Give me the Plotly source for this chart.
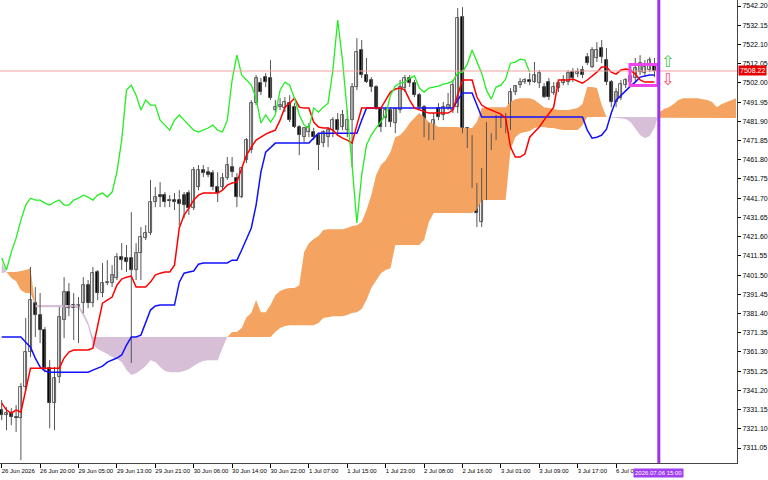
import plotly.graph_objects as go

# ---------------- data (prices) ----------------
x_labels = ["26 Jun 2026", "26 Jun 20:00", "29 Jun 05:00", "29 Jun 13:00", "29 Jun 21:00",
            "30 Jun 06:00", "30 Jun 14:00", "30 Jun 22:00", "1 Jul 07:00", "1 Jul 15:00",
            "1 Jul 23:00", "2 Jul 08:00", "2 Jul 16:00", "3 Jul 01:00", "3 Jul 09:00",
            "3 Jul 17:00", "6 Jul 06"]
x_label_bars = [0, 8, 16, 24, 32, 40, 48, 56, 64, 72, 80, 88, 96, 104, 112, 120, 128]

y_ticks = [7542.20, 7532.15, 7522.10, 7512.05, 7502.00, 7491.95, 7481.90, 7471.85,
           7461.80, 7451.75, 7441.70, 7431.65, 7421.60, 7411.55, 7401.50, 7391.45,
           7381.40, 7371.35, 7361.30, 7351.25, 7341.20, 7331.15, 7321.10, 7311.05]

open_ = [7330.9, 7328.3, 7329.3, 7327.2, 7326.7, 7342.9, 7361.2, 7386.8, 7380.6, 7372.7,
         7352.8, 7334.5, 7348.1, 7377.9, 7392.6, 7385.8, 7384.2, 7386.8, 7396.2, 7386.8,
         7403.1, 7392.1, 7397.3, 7397.3, 7399.9, 7410.9, 7410.4, 7410.4, 7404.1, 7413.0,
         7420.8, 7423.4, 7439.7, 7443.3, 7443.3, 7440.7, 7440.7, 7440.7, 7443.3, 7444.4,
         7436.5, 7447.5, 7456.4, 7455.3, 7454.8, 7447.5, 7447.5, 7452.2, 7458.0, 7452.2,
         7442.3, 7461.6, 7466.9, 7491.4, 7501.9, 7505.0, 7504.5, 7487.8, 7489.3, 7488.8,
         7491.4, 7489.3, 7478.9, 7473.6, 7476.3, 7476.3, 7474.7, 7470.5, 7473.6, 7477.3,
         7482.5, 7478.9, 7477.3, 7482.5, 7499.8, 7519.2, 7506.1, 7503.5, 7499.8, 7488.8,
         7483.6, 7487.8, 7481.0, 7487.8, 7499.3, 7504.5, 7501.9, 7495.6, 7489.3, 7477.3,
         7478.4, 7488.8, 7485.2, 7488.8, 7487.8, 7489.3, 7536.4, 7478.4, 7473.6, 7448.5,
         7429.2, 7456.4, 7473.6, 7473.6, 7482.5, 7483.6, 7478.4, 7497.2, 7500.8, 7502.4,
         7503.5, 7502.4, 7501.9, 7499.8, 7502.4, 7496.7, 7499.3, 7501.9, 7502.4, 7507.6,
         7506.6, 7508.7, 7515.5, 7510.3, 7515.0, 7520.2, 7513.9, 7502.4, 7492.0, 7494.0,
         7500.8, 7502.4, 7504.5, 7507.6, 7507.1, 7508.7, 7511.3]

high = [7336.1, 7332.4, 7331.9, 7333.5, 7345.0, 7379.0, 7405.7, 7395.2, 7392.1, 7374.3,
        7357.0, 7353.4, 7384.7, 7400.4, 7397.3, 7392.1, 7390.0, 7400.4, 7398.9, 7405.7,
        7404.1, 7407.8, 7409.3, 7406.7, 7413.0, 7418.2, 7417.2, 7434.4, 7418.2, 7426.6,
        7427.6, 7451.2, 7447.5, 7450.1, 7444.9, 7443.3, 7444.4, 7445.9, 7444.9, 7445.9,
        7458.0, 7459.0, 7459.0, 7458.0, 7456.4, 7455.3, 7454.8, 7463.2, 7463.2, 7454.8,
        7458.0, 7473.1, 7493.0, 7506.1, 7504.5, 7507.1, 7513.9, 7493.0, 7494.0, 7494.6,
        7495.6, 7491.4, 7479.9, 7478.9, 7481.0, 7478.4, 7475.7, 7477.3, 7478.9, 7484.1,
        7486.2, 7487.8, 7487.8, 7501.9, 7525.4, 7524.4, 7515.0, 7505.0, 7500.8, 7489.3,
        7489.3, 7489.3, 7489.3, 7503.5, 7506.1, 7506.1, 7503.5, 7496.7, 7490.4, 7481.0,
        7486.2, 7491.4, 7492.0, 7496.7, 7503.5, 7541.1, 7541.6, 7478.9, 7474.7, 7449.6,
        7457.4, 7481.5, 7475.7, 7485.2, 7485.2, 7486.2, 7499.3, 7500.8, 7504.5, 7504.5,
        7507.1, 7512.9, 7508.7, 7501.9, 7504.5, 7502.4, 7503.5, 7506.1, 7508.7, 7509.7,
        7509.7, 7510.8, 7517.6, 7520.7, 7523.3, 7524.4, 7520.2, 7503.5, 7499.3, 7503.5,
        7504.5, 7507.6, 7515.0, 7516.5, 7513.9, 7515.5, 7515.0]

low = [7325.6, 7320.4, 7323.0, 7319.4, 7304.7, 7341.3, 7358.6, 7369.1, 7365.9, 7350.7,
       7321.4, 7320.4, 7345.0, 7368.5, 7380.0, 7367.5, 7365.9, 7381.6, 7384.2, 7384.7,
       7388.4, 7390.0, 7396.2, 7395.2, 7398.9, 7404.1, 7403.1, 7355.5, 7398.9, 7398.9,
       7419.8, 7422.4, 7437.0, 7437.0, 7437.0, 7437.0, 7435.5, 7427.6, 7431.3, 7432.9,
       7435.5, 7445.9, 7452.7, 7452.7, 7445.9, 7439.7, 7445.9, 7451.2, 7452.7, 7437.0,
       7441.7, 7460.1, 7465.3, 7490.4, 7495.6, 7499.8, 7493.0, 7486.7, 7487.8, 7486.7,
       7481.5, 7478.4, 7464.2, 7471.0, 7473.6, 7472.1, 7456.4, 7468.4, 7468.4, 7473.6,
       7475.7, 7477.3, 7473.6, 7458.0, 7498.2, 7504.5, 7501.9, 7497.2, 7487.8, 7476.3,
       7478.9, 7478.9, 7475.7, 7486.2, 7497.2, 7499.8, 7494.6, 7487.8, 7473.6, 7472.1,
       7472.1, 7482.5, 7482.5, 7487.8, 7486.2, 7486.2, 7475.7, 7467.9, 7447.0, 7426.6,
       7426.6, 7440.7, 7466.9, 7472.1, 7478.4, 7475.7, 7477.3, 7495.6, 7499.3, 7501.4,
       7500.8, 7501.9, 7499.3, 7494.0, 7493.0, 7495.6, 7497.2, 7500.8, 7500.8, 7502.4,
       7505.0, 7504.5, 7511.3, 7509.7, 7512.9, 7512.3, 7500.8, 7489.3, 7489.3, 7493.0,
       7499.3, 7500.8, 7502.4, 7506.1, 7506.1, 7507.6, 7505.0]

close = [7328.3, 7329.3, 7327.2, 7326.7, 7342.9, 7361.2, 7388.4, 7380.6, 7372.7, 7352.8,
         7334.5, 7347.6, 7379.5, 7392.6, 7384.2, 7384.2, 7385.8, 7396.2, 7386.8, 7402.5,
         7392.1, 7397.3, 7397.8, 7401.5, 7410.9, 7409.3, 7408.3, 7404.1, 7413.0, 7421.4,
         7423.4, 7439.7, 7442.3, 7442.3, 7439.7, 7440.2, 7439.7, 7438.6, 7438.1, 7436.5,
         7456.4, 7456.4, 7454.8, 7453.8, 7447.5, 7444.4, 7452.2, 7459.0, 7455.3, 7442.3,
         7457.4, 7472.1, 7491.4, 7504.5, 7497.2, 7502.4, 7494.0, 7489.3, 7490.4, 7492.0,
         7482.5, 7478.9, 7474.7, 7478.4, 7478.9, 7473.6, 7469.5, 7476.3, 7477.3, 7482.5,
         7477.3, 7485.2, 7482.5, 7499.8, 7518.1, 7506.1, 7502.4, 7499.8, 7488.8, 7478.9,
         7487.8, 7481.5, 7488.3, 7499.8, 7504.5, 7501.9, 7495.6, 7489.3, 7477.3, 7478.4,
         7482.5, 7484.1, 7489.3, 7490.4, 7500.8, 7535.9, 7478.4, 7477.3, 7448.5, 7433.9,
         7456.4, 7472.1, 7470.5, 7483.6, 7484.1, 7477.3, 7497.2, 7500.3, 7502.4, 7503.5,
         7502.4, 7506.1, 7507.1, 7494.6, 7494.6, 7499.8, 7501.9, 7503.5, 7507.1, 7504.5,
         7507.6, 7506.1, 7512.3, 7519.2, 7519.2, 7515.5, 7502.4, 7492.0, 7497.2, 7501.4,
         7503.5, 7505.6, 7509.7, 7512.3, 7510.3, 7513.9, 7508.22]

tenkan = [7334.5, 7330.9, 7329.3, 7330.9, 7329.8, 7341.3, 7352.8, 7352.8, 7352.8, 7352.8,
          7352.8, 7352.8, 7352.8, 7358.1, 7361.2, 7362.3, 7362.3, 7362.3, 7362.3, 7363.3,
          7374.3, 7386.8, 7388.4, 7390.0, 7396.2, 7399.4, 7400.4, 7401.0, 7395.2, 7395.2,
          7395.2, 7397.8, 7401.5, 7402.5, 7403.1, 7403.1, 7406.7, 7426.1, 7432.9, 7436.5,
          7440.7, 7443.3, 7444.4, 7444.4, 7444.4, 7444.4, 7445.9, 7448.5, 7449.6, 7450.1,
          7457.4, 7464.2, 7468.4, 7472.1, 7473.6, 7475.2, 7476.3, 7477.3, 7482.5, 7489.3,
          7491.4, 7494.0, 7489.3, 7488.8, 7488.8, 7481.5, 7478.9, 7478.4, 7478.4, 7477.3,
          7474.7, 7473.1, 7472.1, 7470.5, 7479.9, 7488.8, 7488.8, 7488.8, 7488.8, 7488.8,
          7493.0, 7497.2, 7498.8, 7499.3, 7498.2, 7493.0, 7488.8, 7487.8, 7487.2, 7486.2,
          7486.2, 7486.2, 7486.2, 7486.2, 7487.8, 7495.6, 7503.5, 7503.5, 7503.5, 7494.6,
          7490.4, 7488.8, 7487.8, 7486.7, 7485.7, 7483.6, 7468.4, 7463.2, 7463.2, 7464.8,
          7473.6, 7476.3, 7478.9, 7482.5, 7485.7, 7489.3, 7503.5, 7503.5, 7503.5, 7504.0,
          7502.9, 7501.9, 7503.5, 7505.6, 7507.6, 7510.3, 7510.3, 7507.6, 7506.6, 7508.7,
          7509.2, 7508.7, 7506.6, 7503.5, 7502.4, 7502.4, 7502.4]

kijun = [7369.1, 7369.1, 7369.1, 7369.1, 7369.1, 7366.4, 7363.8, 7358.1, 7353.4, 7351.3,
         7350.7, 7350.7, 7350.7, 7350.7, 7350.7, 7350.7, 7350.7, 7350.7, 7350.7, 7351.8,
         7352.8, 7353.9, 7356.0, 7357.0, 7358.1, 7359.7, 7364.9, 7369.1, 7369.1, 7370.1,
         7376.9, 7383.2, 7385.3, 7385.8, 7385.8, 7385.8, 7385.8, 7397.8, 7402.5, 7403.1,
         7403.6, 7407.2, 7407.8, 7407.8, 7407.8, 7407.8, 7407.8, 7407.8, 7409.3, 7409.3,
         7414.6, 7420.8, 7426.1, 7438.1, 7455.3, 7465.8, 7468.4, 7470.5, 7470.5, 7470.5,
         7470.5, 7470.5, 7470.5, 7470.5, 7470.5, 7473.1, 7475.7, 7475.7, 7475.7, 7475.7,
         7475.7, 7475.7, 7475.7, 7475.7, 7475.7, 7482.5, 7488.8, 7488.8, 7488.8, 7488.8,
         7488.8, 7488.8, 7488.8, 7488.8, 7488.8, 7488.8, 7488.8, 7488.8, 7488.8, 7488.8,
         7488.8, 7488.8, 7488.8, 7488.8, 7488.8, 7493.0, 7496.7, 7496.7, 7496.7, 7490.4,
         7484.1, 7484.1, 7484.1, 7484.1, 7484.1, 7484.1, 7484.1, 7484.1, 7484.1, 7484.1,
         7484.1, 7484.1, 7484.1, 7484.1, 7484.1, 7484.1, 7484.1, 7484.1, 7484.1, 7484.1,
         7484.1, 7484.1, 7477.3, 7473.1, 7473.6, 7474.7, 7477.8, 7486.2, 7493.0, 7495.6,
         7498.2, 7500.3, 7502.4, 7505.0, 7505.6, 7506.1, 7506.1]

chikou = [7410.4, 7404.1, 7413.5, 7420.8, 7430.2, 7438.1, 7441.7, 7440.7, 7440.7, 7439.1,
          7438.1, 7439.7, 7440.7, 7438.1, 7438.1, 7440.7, 7441.7, 7443.3, 7442.3, 7440.7,
          7443.3, 7444.4, 7442.3, 7444.9, 7455.3, 7472.1, 7498.2, 7500.8, 7495.6, 7487.8,
          7493.0, 7490.4, 7490.4, 7482.5, 7479.9, 7477.3, 7482.5, 7485.2, 7482.5, 7479.9,
          7477.3, 7476.3, 7477.3, 7478.4, 7479.9, 7477.3, 7476.3, 7482.5, 7503.5, 7516.5,
          7506.1, 7503.5, 7500.8, 7494.0, 7481.0, 7485.2, 7481.5, 7485.2, 7498.2, 7502.4,
          7500.8, 7494.0, 7485.2, 7479.9, 7478.4, 7488.8, 7486.7, 7489.3, 7491.4, 7508.7,
          7534.8, 7513.9, 7487.8, 7459.0, 7428.7, 7453.8, 7469.5, 7474.7, 7478.4, 7481.5,
          7485.2, 7495.6, 7500.3, 7501.9, 7502.4, 7504.5, 7505.6, 7499.3, 7497.2, 7499.3,
          7499.8, 7500.3, 7501.4, 7501.9, 7502.9, 7507.1, 7507.6, 7511.8, 7519.2, 7512.9,
          7507.1, 7498.2, 7493.5, 7499.8, 7500.8, 7504.0, 7512.3, 7512.9, 7514.4, 7513.9,
          7507.6]

span_a = [7402.5, 7403.1, 7403.1, 7403.1, 7403.6, 7404.1, 7405.1, 7384.7, 7384.7, 7384.7,
          7384.7, 7384.7, 7384.7, 7384.7, 7384.7, 7384.7, 7384.2, 7380.0, 7374.8, 7364.9,
          7362.8, 7361.7, 7360.2, 7358.6, 7357.6, 7356.0, 7351.8, 7349.2, 7350.2, 7351.8,
          7353.9, 7357.0, 7356.0, 7353.4, 7351.3, 7350.7, 7350.7, 7350.7, 7351.3, 7352.3,
          7353.9, 7355.5, 7356.5, 7357.0, 7357.0, 7357.0, 7363.3, 7369.1, 7371.7, 7371.7,
          7373.8, 7379.5, 7381.6, 7388.4, 7382.1, 7382.1, 7385.8, 7391.0, 7393.1, 7394.2,
          7394.7, 7394.7, 7396.2, 7413.5, 7418.2, 7420.3, 7421.9, 7425.0, 7425.5, 7425.5,
          7425.5, 7425.5, 7426.1, 7427.1, 7427.6, 7429.2, 7435.5, 7443.3, 7453.8, 7459.0,
          7461.6, 7465.8, 7473.6, 7474.7, 7477.3, 7481.0, 7483.6, 7486.2, 7484.1, 7481.5,
          7480.5, 7478.9, 7478.9, 7478.9, 7478.9, 7478.9, 7478.4, 7478.4, 7478.4, 7481.5,
          7488.8, 7489.3, 7489.3, 7489.3, 7489.3, 7489.3, 7492.0, 7493.5, 7494.0, 7494.0,
          7494.0, 7493.0, 7490.9, 7489.3, 7488.8, 7488.3, 7487.8, 7487.8, 7487.8, 7488.3,
          7488.8, 7490.9, 7499.8, 7499.8, 7499.3, 7490.4, 7484.1, 7483.9, 7483.6, 7483.6,
          7483.1, 7481.5, 7478.4, 7474.7, 7473.1, 7474.2, 7478.4, 7486.7, 7488.3, 7489.3,
          7490.9, 7493.0, 7494.0, 7494.0, 7494.0, 7494.0, 7493.5, 7493.0, 7492.0, 7489.3,
          7490.9, 7492.0, 7493.0, 7494.0]

span_b = [7408.3, 7403.1, 7399.9, 7398.3, 7393.6, 7392.1, 7392.1, 7385.8, 7385.8, 7385.8,
          7385.8, 7385.8, 7385.8, 7385.8, 7385.8, 7385.8, 7385.8, 7382.1, 7376.9, 7369.1,
          7369.1, 7369.1, 7369.1, 7369.1, 7369.1, 7369.1, 7369.1, 7369.1, 7369.1, 7369.1,
          7369.1, 7369.1, 7369.1, 7369.1, 7369.1, 7369.1, 7369.1, 7369.1, 7369.1, 7369.1,
          7369.1, 7369.1, 7369.1, 7369.1, 7369.1, 7369.1, 7369.1, 7369.1, 7369.1, 7369.1,
          7369.1, 7369.1, 7369.1, 7369.1, 7369.1, 7369.1, 7369.1, 7371.7, 7373.8, 7374.8,
          7375.3, 7375.3, 7375.3, 7375.3, 7375.3, 7375.3, 7376.4, 7379.0, 7379.5, 7380.0,
          7380.0, 7380.0, 7380.6, 7381.6, 7382.1, 7383.7, 7388.4, 7394.7, 7398.9, 7402.5,
          7404.1, 7405.1, 7417.2, 7417.2, 7417.2, 7417.2, 7417.2, 7417.2, 7419.8, 7429.2,
          7433.9, 7433.9, 7433.9, 7433.9, 7433.9, 7433.9, 7433.9, 7433.9, 7433.9, 7435.5,
          7440.7, 7440.7, 7440.7, 7440.7, 7440.7, 7440.7, 7466.9, 7473.6, 7475.7, 7476.3,
          7476.8, 7478.4, 7478.9, 7478.9, 7478.4, 7478.4, 7477.8, 7477.3, 7477.3, 7477.3,
          7477.3, 7479.9, 7484.1, 7484.1, 7484.1, 7484.1, 7484.1, 7484.1, 7484.1, 7484.1,
          7484.1, 7484.1, 7484.1, 7484.1, 7484.1, 7484.1, 7484.1, 7483.6, 7483.6, 7483.6,
          7483.6, 7483.6, 7483.6, 7483.6, 7483.6, 7483.6, 7483.6, 7483.6, 7483.6, 7483.6,
          7483.6, 7483.6, 7483.6, 7483.6]

current_price = 7508.22
marker_bar = 136.9
marker_label = "2026.07.06 15:00"
box_bars = (130.9, 136.7)
box_prices = (7500.6, 7511.6)
up_arrow_price = 7513.4
down_arrow_price = 7504.0
arrow_bar = 138.8

# ---------------- styles ----------------
UP_CLOUD = "#f4a460"
DN_CLOUD = "#d8bfd8"
FONT = "Liberation Sans"

bars = list(range(len(close)))
cloud_x = list(range(len(span_a)))
chikou_x = list(range(len(chikou)))

fig = go.Figure()


def cloud_runs(xs, a, b):
    runs = []
    cur = None
    for i in range(len(xs)):
        d = a[i] - b[i]
        s = (d > 0) - (d < 0)
        pt = (xs[i], a[i], b[i])
        if cur is None:
            cur = {"s": s, "pts": [pt]}
            continue
        pdv = a[i - 1] - b[i - 1]
        if pdv * d < 0:
            t = pdv / (pdv - d)
            xc = xs[i - 1] + t * (xs[i] - xs[i - 1])
            yc = a[i - 1] + t * (a[i] - a[i - 1])
            cur["pts"].append((xc, yc, yc))
            runs.append(cur)
            cur = {"s": s, "pts": [(xc, yc, yc), pt]}
        else:
            if cur["s"] == 0:
                cur["s"] = s
            if s != 0 and s != cur["s"]:
                prev = cur["pts"][-1]
                runs.append(cur)
                cur = {"s": s, "pts": [prev, pt]}
            else:
                cur["pts"].append(pt)
    runs.append(cur)
    return runs


runs = cloud_runs(cloud_x, span_a, span_b)
for sign, color in ((1, UP_CLOUD), (-1, DN_CLOUD)):
    px, py = [], []
    for r in runs:
        if r["s"] != sign:
            continue
        xs = [p[0] for p in r["pts"]]
        ya = [p[1] for p in r["pts"]]
        yb = [p[2] for p in r["pts"]]
        px += xs + xs[::-1] + [None]
        py += ya + yb[::-1] + [None]
    fig.add_trace(go.Scatter(x=px, y=py, fill="toself", fillcolor=color, mode="lines",
                             line=dict(width=0, color=color), hoverinfo="skip"))

# candle wicks
wx, wy = [], []
for i in bars:
    wx += [i, i, None]
    wy += [low[i], high[i], None]
fig.add_trace(go.Scatter(x=wx, y=wy, mode="lines", line=dict(color="#555555", width=1),
                         hoverinfo="skip"))

# candle bodies
body_base = [min(o, c) for o, c in zip(open_, close)]
body_h = [abs(c - o) for o, c in zip(open_, close)]
body_col = ["#ffffff" if c >= o else "#000000" for o, c in zip(open_, close)]
fig.add_trace(go.Bar(x=bars, y=body_h, base=body_base, width=0.62,
                     marker=dict(color=body_col, line=dict(color="#333333", width=0.8)),
                     hoverinfo="skip"))

# ichimoku lines
fig.add_trace(go.Scatter(x=bars, y=kijun, mode="lines", line=dict(color="#1010ff", width=1.5),
                         hoverinfo="skip"))
fig.add_trace(go.Scatter(x=bars, y=tenkan, mode="lines", line=dict(color="#ff0000", width=1.5),
                         hoverinfo="skip"))
fig.add_trace(go.Scatter(x=chikou_x, y=chikou, mode="lines", line=dict(color="#22ee22", width=1.3),
                         hoverinfo="skip"))

shapes = [
    dict(type="line", xref="paper", x0=0, x1=1, yref="y", y0=current_price, y1=current_price,
         line=dict(color="#f0a0a0", width=1)),
    dict(type="rect", xref="x", x0=box_bars[0], x1=box_bars[1], yref="y",
         y0=box_prices[0], y1=box_prices[1], line=dict(color="#ee44ee", width=3)),
    dict(type="line", xref="x", x0=marker_bar, x1=marker_bar, yref="paper", y0=0, y1=1,
         line=dict(color="#9933ee", width=3)),
]

annotations = [
    dict(xref="paper", x=1, xanchor="left", xshift=1, yref="y", y=current_price, yanchor="middle",
         text=f"{current_price:.2f}", showarrow=False, bgcolor="#e60000", borderpad=1,
         font=dict(family=FONT, size=7, color="white")),
    dict(xref="x", x=marker_bar, xanchor="center", yref="paper", y=0, yanchor="middle", yshift=-10,
         text=marker_label, showarrow=False, bgcolor="#a040f0", borderpad=1,
         font=dict(family=FONT, size=6, color="white")),
    dict(xref="x", x=arrow_bar, yref="y", y=up_arrow_price, text="⇧", showarrow=False,
         font=dict(family="DejaVu Sans", size=16, color="#44cc44")),
    dict(xref="x", x=arrow_bar, yref="y", y=down_arrow_price, text="⇩", showarrow=False,
         font=dict(family="DejaVu Sans", size=16, color="#ff4466")),
]

fig.update_layout(
    width=768, height=480, margin=dict(l=0, r=31, t=0, b=17, autoexpand=False),
    paper_bgcolor="white", plot_bgcolor="white", showlegend=False, hovermode=False,
    bargap=0, shapes=shapes, annotations=annotations,
    xaxis=dict(range=[-0.354, 153.19], tickvals=x_label_bars, ticktext=x_labels,
               tickangle=0, automargin=False,
               ticks="outside", ticklen=4, tickcolor="black", tickwidth=1,
               ticklabelposition="outside right", ticklabelshift=-1, ticklabelstandoff=2,
               showline=True, linecolor="#444444", linewidth=1, mirror=True,
               showgrid=False, zeroline=False,
               tickfont=dict(family=FONT, size=6, color="black")),
    yaxis=dict(range=[7303.22, 7545.34], side="right", tickvals=y_ticks,
               ticktext=[f"{v:.2f}" for v in y_ticks], automargin=False,
               ticks="outside", ticklen=3, tickcolor="black", tickwidth=1,
               showline=True, linecolor="#444444", linewidth=1, mirror=True,
               showgrid=False, zeroline=False,
               tickfont=dict(family=FONT, size=7, color="black")),
)

fig.write_html("out.html")
